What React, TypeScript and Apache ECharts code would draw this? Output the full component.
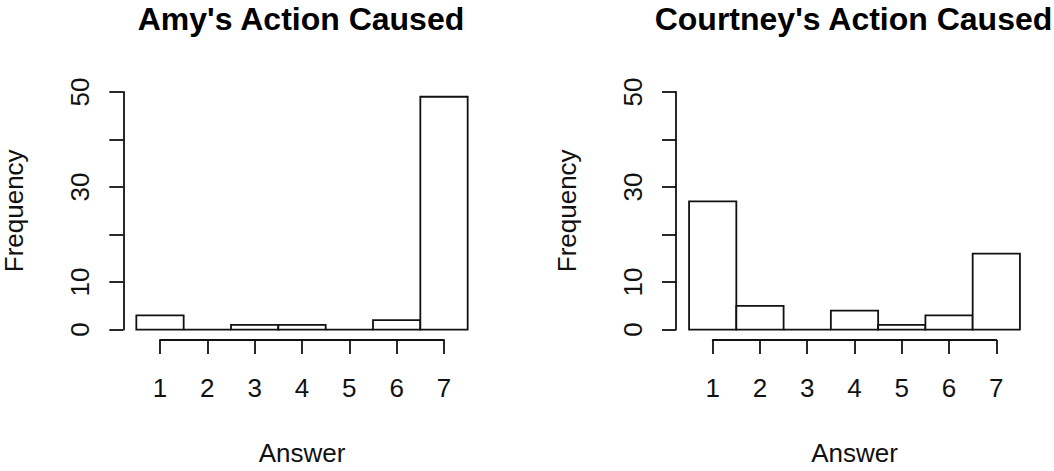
import React, { useEffect, useRef } from "react";
import * as echarts from "echarts";

const answers = [1, 2, 3, 4, 5, 6, 7];
const amyCounts = [3, 0, 1, 1, 0, 2, 49];
const courtneyCounts = [27, 5, 0, 4, 1, 3, 16];
const yTickLabels = ["0", "10", "30", "50"];
const titles = ["Amy's Action Caused", "Courtney's Action Caused"];
const xName = "Answer";
const yName = "Frequency";

const FONT = "'Liberation Sans', Arial, Helvetica, sans-serif";
const INK = "#111";

export default function App() {
  const ref = useRef<HTMLDivElement>(null);
  useEffect(() => {
    if (!ref.current) return;
    const chart = echarts.init(ref.current, undefined, { renderer: "svg" });
    const grids = [
      { left: 160, width: 284, top: 92, height: 240.3 },
      { left: 712.7, width: 283.6, top: 92, height: 240.3 },
    ];
    const centers = [301, 853.5];
    const seriesData = [amyCounts, courtneyCounts];
    const renderItem = (params: any, api: any) => {
      const x = api.value(0);
      const v = api.value(1);
      const p1 = api.coord([x - 0.5, v]);
      const p2 = api.coord([x + 0.5, 0]);
      return {
        type: "polygon",
        shape: {
          points: [
            [p1[0], p2[1]],
            [p1[0], p1[1]],
            [p2[0], p1[1]],
            [p2[0], p2[1]],
          ],
        },
        style: { fill: "#fff", stroke: INK, lineWidth: 1.8 },
      };
    };
    chart.setOption({
      animation: false,
      backgroundColor: "#fff",
      textStyle: { fontFamily: FONT },
      title: titles.map((t, i) => ({
        text: t,
        left: centers[i],
        top: 3,
        textAlign: "center",
        padding: 0,
        textStyle: { fontFamily: FONT, fontSize: 32, fontWeight: "bold", color: "#000" },
      })),
      grid: grids,
      xAxis: grids.map((_, i) => ({
        type: "value",
        gridIndex: i,
        min: 1,
        max: 7,
        interval: 1,
        offset: 10.4,
        splitLine: { show: false },
        axisLine: { show: true, onZero: false, lineStyle: { color: INK, width: 1.8 } },
        axisTick: { show: true, length: 14, lineStyle: { color: INK, width: 1.8 } },
        axisLabel: { margin: 35, fontSize: 26, color: INK, fontFamily: FONT },
        name: xName,
        nameLocation: "middle",
        nameGap: 100,
        nameTextStyle: { fontSize: 26, color: INK, fontFamily: FONT },
      })),
      yAxis: grids.map((_, i) => ({
        type: "value",
        gridIndex: i,
        min: 0,
        max: 50,
        interval: 10,
        offset: 36.7,
        splitLine: { show: false },
        axisLine: { show: true, onZero: false, lineStyle: { color: INK, width: 1.8 } },
        axisTick: { show: true, length: 14, lineStyle: { color: INK, width: 1.8 } },
        axisLabel: {
          rotate: 90,
          margin: 30,
          fontSize: 26,
          color: INK,
          fontFamily: FONT,
          formatter: (v: number) => (yTickLabels.includes(String(v)) ? String(v) : ""),
        },
        name: yName,
        nameLocation: "middle",
        nameRotate: 90,
        nameGap: 96,
        nameTextStyle: { fontSize: 26, color: INK, fontFamily: FONT },
      })),
      series: seriesData.map((counts, i) => ({
        type: "custom",
        xAxisIndex: i,
        yAxisIndex: i,
        clip: false,
        renderItem,
        data: answers.map((a, j) => [a, counts[j]]),
      })),
    });
    return () => chart.dispose();
  }, []);
  return (
    <div
      ref={ref}
      style={{ position: "absolute", left: 0, top: 0, width: 1054, height: 471, background: "#fff" }}
    />
  );
}
